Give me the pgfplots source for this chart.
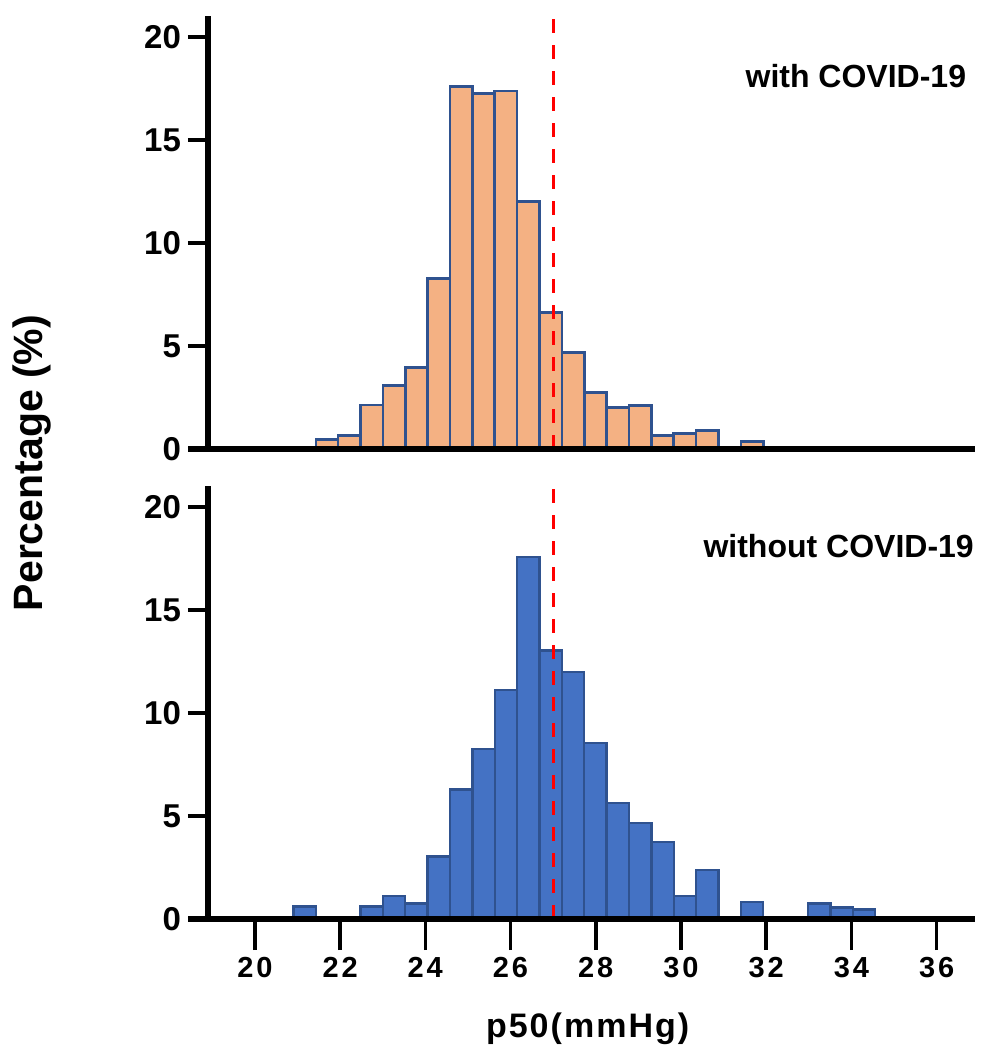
\documentclass[border=0pt]{standalone}
\usepackage{fontspec}
\setmainfont{Liberation Sans}
\newfontfamily\spacedfont[LetterSpace=10]{Liberation Sans}
\newfontfamily\labelfont[LetterSpace=6]{Liberation Sans}
\usepackage{pgfplots}
\pgfplotsset{compat=1.18}
\definecolor{orangefill}{RGB}{244,177,131}
\definecolor{bluefill}{RGB}{68,114,196}
\definecolor{edgeblue}{RGB}{47,82,143}
\pgfplotsset{
  panel/.style={
    scale only axis, width=383.5pt, height=216.3pt,
    xmin=18.9, xmax=36.9, ymin=0, ymax=21,
    axis lines*=left,
    axis line style={line width=2.6pt, black},
    x axis line style={shorten <=-10pt},
    ytick={0,5,10,15,20},
    tick style={line width=1.8pt, black},
    tick align=outside,
    major tick length=10pt,
    yticklabel style={font=\fontsize{16.5}{16.5}\selectfont\bfseries},
    /pgf/number format/assume math mode=true,
    axis on top,
    clip=false,
  }
}
\begin{document}
\begin{tikzpicture}
\path (-104pt,224.5pt) rectangle (387pt,-301.5pt);
% top panel
\begin{axis}[panel, at={(0,0)}, anchor=south west, xtick=\empty]
\addplot[ybar, bar width=0.525, bar shift=0pt, fill=orangefill, draw=edgeblue, line width=1.3pt]
coordinates {
(21.6925,0.45) (22.2175,0.66) (22.7425,2.14) (23.2675,3.09) (23.7925,3.97)
(24.3175,8.29) (24.8425,17.59) (25.3675,17.27) (25.8925,17.38) (26.4175,12.0)
(26.9425,6.62) (27.4675,4.69) (27.9925,2.73) (28.5175,2.0) (29.0425,2.12)
(29.5675,0.66) (30.0925,0.76) (30.6175,0.89) (31.6675,0.37)
};
\addplot[red, line width=1.5pt, dash pattern=on 7pt off 6pt] coordinates {(27,0) (27,21.3)};
\node[anchor=base east, inner sep=0pt, font=\fontsize{16}{16}\selectfont\bfseries] at (axis cs:36.70,17.57) {with COVID-19};
\end{axis}
% bottom panel
\begin{axis}[panel, at={(0,-235pt)}, anchor=south west,
  xtick=\empty,
  extra x ticks={20,22,...,36},
  extra x tick style={major tick length=15.5pt, tick align=outside,
    tick style={line width=1.8pt, black}},
  xticklabel style={font=\spacedfont\fontsize{14.5}{14.5}\selectfont\bfseries},
]
\addplot[ybar, bar width=0.525, bar shift=0pt, fill=bluefill, draw=edgeblue, line width=1.2pt]
coordinates {
(21.1675,0.6) (22.7425,0.6) (23.2675,1.13) (23.7925,0.76) (24.3175,3.03)
(24.8425,6.28) (25.3675,8.26) (25.8925,11.13) (26.4175,17.58) (26.9425,13.03)
(27.4675,12.0) (27.9925,8.55) (28.5175,5.63) (29.0425,4.66) (29.5675,3.73)
(30.0925,1.13) (30.6175,2.38) (31.6675,0.84) (33.2425,0.76) (33.7675,0.55)
(34.2925,0.47)
};
\addplot[red, line width=1.5pt, dash pattern=on 7pt off 6pt] coordinates {(27,0) (27,21.2)};
\node[anchor=base east, inner sep=0pt, font=\fontsize{16}{16}\selectfont\bfseries] at (axis cs:36.88,17.57) {without COVID-19};
\node[anchor=base, inner sep=0pt, font=\labelfont\fontsize{17}{17}\selectfont\bfseries] at (rel axis cs:0.495,0) [yshift=-59pt] {p50(mmHg)};
\end{axis}
\node[rotate=90, font=\fontsize{20.5}{20.5}\selectfont\bfseries] at (-88pt,-7pt) {Percentage (\%)};
\end{tikzpicture}
\end{document}
